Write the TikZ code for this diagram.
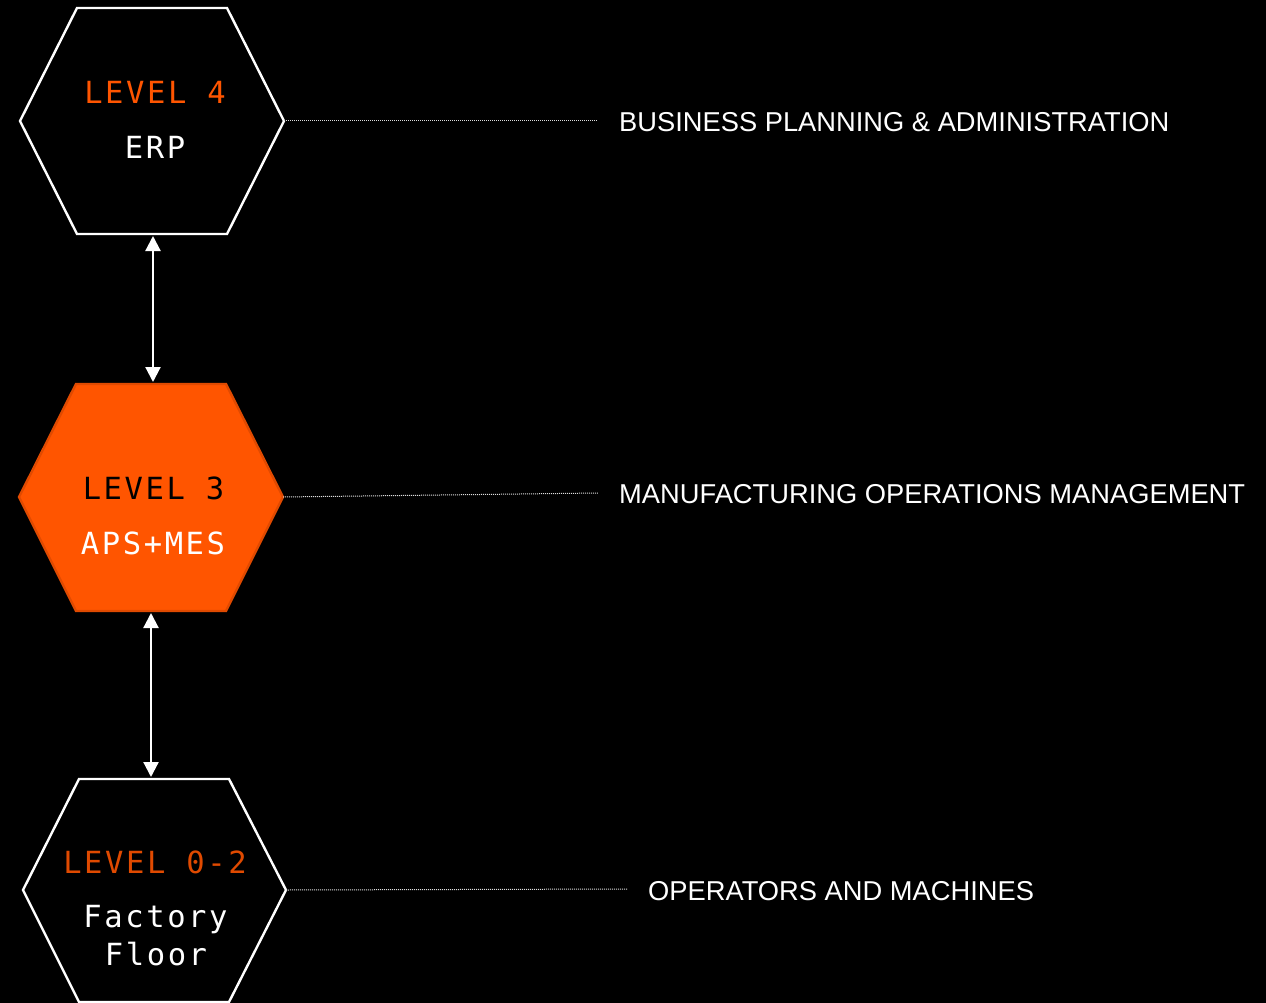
\documentclass[tikz,border=0pt]{standalone}
\usepackage{fontspec}
\setmainfont{Liberation Sans}
\newfontfamily\hexmono[LetterSpace=8.5]{DejaVu Sans Mono}
\usetikzlibrary{arrows.meta}
\definecolor{brandorange}{HTML}{FF5500}
\definecolor{darkorange}{HTML}{E04A00}
\definecolor{dotgray}{HTML}{DDDDDD}
\tikzset{
  x=1pt, y=-1pt,
  hexline/.style={draw=white, line width=2.4pt, fill=black, line join=miter},
  hexfilled/.style={draw=darkorange, line width=2.4pt, fill=brandorange, line join=miter},
  lvl/.style={font=\hexmono\fontsize{30.5}{30.5}\selectfont, inner sep=0pt, anchor=base},
  sub/.style={font=\hexmono\fontsize{30.5}{30.5}\selectfont, text=white, inner sep=0pt, anchor=base},
  desc/.style={font=\fontsize{27.3}{27.3}\selectfont, text=white, inner sep=0pt, anchor=base west},
  dotline/.style={draw=dotgray, line width=1pt, dash pattern=on 1pt off 1pt},
  biarrow/.style={draw=white, line width=2.2pt, {Triangle[width=15pt,length=15pt]}-{Triangle[width=15pt,length=15pt]}, shorten <=2pt, shorten >=2pt}
}
\begin{document}
\begin{tikzpicture}
\path[fill=black] (0,0) rectangle (1266,1003);
\useasboundingbox (0,0) rectangle (1266,1003);

% hexagon 1
\coordinate (h1) at (152,121);
\coordinate (h1r) at (284,121);
\coordinate (h1b) at (153,234);
\draw[hexline] (77,8) -- (227,8) -- (h1r) -- (227,234) -- (77,234) -- (20,121) -- cycle;
\node[lvl, text=brandorange] (l4) at (155,104) {LEVEL 4};
\node[sub] (erp) at (155,159) {ERP};

% hexagon 2
\coordinate (h2) at (151,497);
\coordinate (h2r) at (283,497);
\coordinate (h2t) at (153,384);
\coordinate (h2b) at (151,611);
\draw[hexfilled] (76,384) -- (226,384) -- (h2r) -- (226,611) -- (76,611) -- (19,497) -- cycle;
\node[lvl, text=black] (l3) at (153.5,499) {LEVEL 3};
\node[sub] (apsmes) at (153,554) {APS+MES};

% hexagon 3
\coordinate (h3) at (154,890);
\coordinate (h3r) at (286,890);
\coordinate (h3t) at (151,779);
\draw[hexline] (79,779) -- (229,779) -- (h3r) -- (229,1002) -- (79,1002) -- (23,890) -- cycle;
\node[lvl, text=darkorange] (l02) at (155,873) {LEVEL 0-2};
\node[sub] (fac) at (155.5,927) {Factory};
\node[sub] (flo) at (156,965) {Floor};

% arrows
\draw[biarrow] (h1b) -- (h2t);
\draw[biarrow] (h2b) -- (h3t);

% dotted leaders
\coordinate (e1) at (598,121);
\coordinate (e2) at (598,493);
\coordinate (e3) at (627,889);
\draw[dotline] (h1r) -- (e1);
\draw[dotline] (h2r) -- (e2);
\draw[dotline] (h3r) -- (e3);

% descriptions
\node[desc] (d1) at (619,132) {BUSINESS PLANNING \& ADMINISTRATION};
\node[desc] (d2) at (619,503) {MANUFACTURING OPERATIONS MANAGEMENT};
\node[desc] (d3) at (648,900) {OPERATORS AND MACHINES};
\end{tikzpicture}
\end{document}
